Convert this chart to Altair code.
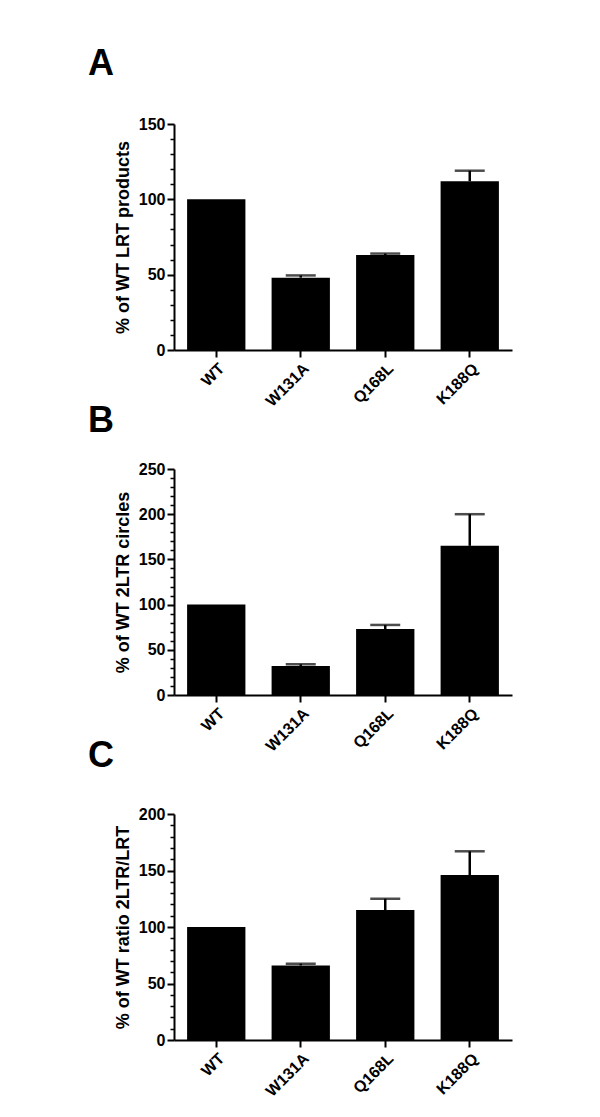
import altair as alt
import pandas as pd

categories = ["WT", "W131A", "Q168L", "K188Q"]

lrt_values = [100, 48, 63, 112]
lrt_errors = [0, 1.5, 1, 7]

circle_values = [100, 32, 73, 165]
circle_errors = [0, 2, 4.5, 35]

ratio_values = [100, 66, 115, 146]
ratio_errors = [0, 1.5, 10, 21]

FONT = "Liberation Sans"


def panel(letter, ytitle, values, errors, ymax, title_offset):
    df = pd.DataFrame({"cat": categories, "val": values, "err": errors})
    base = alt.Chart(df).transform_calculate(hi="datum.val + datum.err")
    xenc = alt.X(
        "cat:N",
        sort=categories,
        title=None,
        scale=alt.Scale(paddingInner=0.31, paddingOuter=0.155),
        axis=alt.Axis(
            labelAngle=-45,
            labelFont=FONT,
            labelFontSize=16,
            labelFontWeight="bold",
            labelColor="black",
            tickSize=7,
            tickWidth=2,
            tickColor="black",
            domainWidth=2,
            domainColor="black",
            labelPadding=3,
        ),
    )
    yscale = alt.Scale(domain=[0, ymax], nice=False)
    major_axis = alt.Axis(
        orient="left",
        values=list(range(0, ymax + 1, 50)),
        labelFont=FONT,
        labelFontSize=16,
        labelFontWeight="bold",
        labelColor="black",
        labelPadding=2,
        tickSize=7,
        tickWidth=2,
        tickColor="black",
        domainWidth=2,
        domainColor="black",
        title=ytitle,
        titleFont=FONT,
        titleFontSize=18,
        titleFontWeight="bold",
        titleColor="black",
        titlePadding=6,
    )
    minor_axis = alt.Axis(
        orient="left",
        values=[v for v in range(0, ymax + 1, 10) if v % 50 != 0],
        labels=False,
        domain=False,
        title=None,
        tickSize=4,
        tickWidth=1.5,
        tickColor="black",
    )
    bars = base.mark_bar(color="black").encode(
        x=xenc, y=alt.Y("val:Q", scale=yscale, axis=major_axis)
    )
    minor = base.mark_bar(opacity=0).encode(
        x=alt.X("cat:N", sort=categories),
        y=alt.Y("val:Q", scale=yscale, axis=minor_axis),
    )
    stems = base.transform_filter("datum.err > 0").mark_rule(
        color="black", strokeWidth=2.5
    ).encode(
        x=alt.X("cat:N", sort=categories),
        y=alt.Y("val:Q", scale=yscale, axis=None),
        y2="hi:Q",
    )
    caps = base.transform_filter("datum.err > 0").mark_tick(
        color="black", size=30, thickness=2.5, orient="horizontal"
    ).encode(
        x=alt.X("cat:N", sort=categories),
        y=alt.Y("hi:Q", scale=yscale, axis=None),
    )
    return (
        alt.layer(bars, minor, stems, caps)
        .resolve_axis(y="independent")
        .properties(
            width=338,
            height=226,
            title=alt.TitleParams(
                letter,
                anchor="start",
                frame="group",
                font=FONT,
                fontSize=36,
                fontWeight="bold",
                color="black",
                dx=-86,
                offset=title_offset,
            ),
        )
    )


a = panel("A", "% of WT LRT products", lrt_values, lrt_errors, 150, 33)
b = panel("B", "% of WT 2LTR circles", circle_values, circle_errors, 250, 21)
c = panel("C", "% of WT ratio 2LTR/LRT", ratio_values, ratio_errors, 200, 31)

chart = (
    alt.vconcat(a, b, c, spacing=119, bounds="flush")
    .properties(padding={"left": 80, "top": 38, "right": 5, "bottom": 5})
    .configure_view(stroke=None)
    .configure_axis(grid=False)
)

chart.save("out.html", embed_options={"renderer": "svg", "actions": False})
